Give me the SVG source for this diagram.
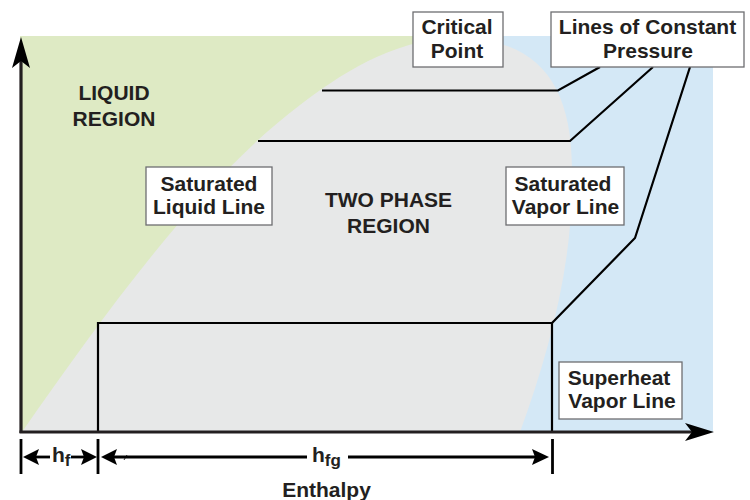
<svg xmlns="http://www.w3.org/2000/svg" width="750" height="500" viewBox="0 0 750 500">
<style>
text{font-family:"Liberation Sans",Arial,sans-serif;font-weight:bold;font-size:21px;fill:#231f20}
.c{text-anchor:middle}
.box{fill:#fff;stroke:#6d6e71;stroke-width:1.3}
.ln{fill:none;stroke:#000;stroke-width:2.2}
.dm{fill:none;stroke:#000;stroke-width:2.8}
.ax{fill:none;stroke:#231f20;stroke-width:3.2}
.ah{fill:#000}
</style>
<g id="background">
<rect x="20" y="36" width="440" height="396" fill="#deeac4"/>
<rect x="458" y="36" width="255" height="396" fill="#d4e8f6"/>
<path d="M22,432 C100,320 200,180 300,105 C340,75 390,40 455,38 C535,38 572,80 572,170 C574,260 550,350 520,432 Z" fill="#e7e8e8"/>
</g>
<g id="connectors">
<polyline class="ln" points="322,90.5 558,90.5 600,67"/>
<polyline class="ln" points="258,141 570,141 653,67"/>
<polyline class="ln" points="98,432 98,323 552,323 552,432"/>
<polyline class="ln" points="552,323 635,238 690,67"/>
</g>
<g id="axes">
<line class="ax" x1="21" y1="433" x2="21" y2="58"/>
<path class="ah" d="M21,37 L30,68 L21,61 L12,68 Z"/>
<line class="ax" x1="19.5" y1="432" x2="695" y2="432"/>
<path class="ah" d="M714,432 L685,423 L692,432 L685,441 Z"/>
</g>
<g id="dimensions">
<line class="dm" x1="21" y1="439" x2="21" y2="474"/>
<line class="dm" x1="98" y1="439" x2="98" y2="474"/>
<line class="dm" x1="552.5" y1="439" x2="552.5" y2="474"/>
<line class="dm" x1="34" y1="457" x2="50" y2="457"/>
<path class="ah" d="M23,457 L39,449 L36,457 L39,465 Z"/>
<line class="dm" x1="71" y1="457" x2="85" y2="457"/>
<path class="ah" d="M97,457 L81,449 L84,457 L81,465 Z"/>
<line class="dm" x1="114" y1="457" x2="307" y2="457"/>
<path class="ah" d="M101,457 L117,449 L114,457 L117,465 Z"/>
<line x1="124" y1="460" x2="127" y2="455" stroke="#000" stroke-width="0.8"/>
<line class="dm" x1="348" y1="457" x2="535" y2="457"/>
<path class="ah" d="M549,457 L532,449 L535,457 L532,465 Z"/>
<text x="52" y="462">h<tspan font-size="17" dy="4">f</tspan></text>
<text x="312" y="462">h<tspan font-size="17" dy="4">fg</tspan></text>
<text class="c" x="326.5" y="497">Enthalpy</text>
</g>
<g id="liquid-region">
<text class="c" x="114" y="100">LIQUID</text>
<text class="c" x="114" y="126">REGION</text>
</g>
<g id="two-phase-region">
<text class="c" x="388.5" y="207">TWO PHASE</text>
<text class="c" x="388.5" y="233">REGION</text>
</g>
<g id="critical-point">
<rect class="box" x="413" y="12" width="90" height="55"/>
<text class="c" x="457" y="34">Critical</text>
<text class="c" x="457" y="58">Point</text>
</g>
<g id="lines-of-constant-pressure">
<rect class="box" x="551" y="12" width="193" height="55"/>
<text class="c" x="647.5" y="34">Lines of Constant</text>
<text class="c" x="648" y="58">Pressure</text>
</g>
<g id="saturated-liquid-line">
<rect class="box" x="146" y="167" width="126" height="58"/>
<text class="c" x="209" y="191">Saturated</text>
<text class="c" x="209" y="214">Liquid Line</text>
</g>
<g id="saturated-vapor-line">
<rect class="box" x="506" y="167" width="118" height="58"/>
<text class="c" x="563" y="191">Saturated</text>
<text class="c" x="565.5" y="214">Vapor Line</text>
</g>
<g id="superheat-vapor-line">
<rect class="box" x="559" y="362" width="123" height="57"/>
<text class="c" x="619" y="385">Superheat</text>
<text class="c" x="622" y="408">Vapor Line</text>
</g>
</svg>
